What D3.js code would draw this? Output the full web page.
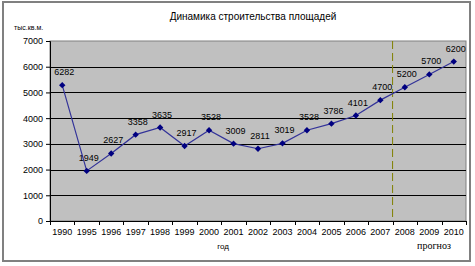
<!DOCTYPE html>
<html>
<head>
<meta charset="utf-8">
<script src="https://cdn.jsdelivr.net/npm/d3@7"></script>
<style>
  body { margin: 0; background: #fff; }
  text { font-family: Arial, "Liberation Sans", sans-serif; fill: #000; }
</style>
</head>
<body>
<div id="chart"></div>
<script>
var years = ["1990", "1995", "1996", "1997", "1998", "1999", "2000", "2001", "2002",
             "2003", "2004", "2005", "2006", "2007", "2008", "2009", "2010"];
var values = [5282, 1949, 2627, 3358, 3635, 2917, 3528, 3009, 2811,
              3019, 3528, 3786, 4101, 4700, 5200, 5700, 6200];
// labels as printed on the chart (first one differs from its point)
var pointLabels = ["6282", "1949", "2627", "3358", "3635", "2917", "3528", "3009", "2811",
                   "3019", "3528", "3786", "4101", "4700", "5200", "5700", "6200"];
var yTicks = [0, 1000, 2000, 3000, 4000, 5000, 6000, 7000];
var forecastFrom = "2008";

var W = 475, H = 266;
var margin = { top: 41, right: 9, bottom: 45, left: 50 };
var width = W - margin.left - margin.right;
var height = H - margin.top - margin.bottom;

var svg = d3.select("#chart").append("svg")
    .attr("width", W)
    .attr("height", H);

// outer frame
svg.append("rect")
    .attr("x", 3).attr("y", 2)
    .attr("width", 467).attr("height", 259)
    .attr("fill", "#fff")
    .attr("stroke", "#808080")
    .attr("stroke-width", 2);

svg.append("text")
    .attr("x", 253).attr("y", 20)
    .attr("text-anchor", "middle")
    .style("font-size", "10px")
    .text("Динамика строительства площадей");

svg.append("text")
    .attr("x", 14).attr("y", 30)
    .style("font-size", "7px")
    .text("тыс.кв.м.");

var g = svg.append("g")
    .attr("transform", `translate(${margin.left}, ${margin.top})`);

var x = d3.scaleBand().domain(years).range([0, width]);
var y = d3.scaleLinear().domain([0, 7000]).range([height, 0]);

// plot area
g.append("rect")
    .attr("width", width)
    .attr("height", height)
    .attr("fill", "#c0c0c0")
    .attr("stroke", "#808080")
    .attr("stroke-width", 1);

// gridlines
g.selectAll(".grid")
    .data(yTicks.filter(d => d > 0 && d < 7000))
    .enter().append("line")
    .attr("class", "grid")
    .attr("x1", 0).attr("x2", width)
    .attr("y1", d => Math.round(y(d)) + 0.5)
    .attr("y2", d => Math.round(y(d)) + 0.5)
    .attr("stroke", "#000")
    .attr("stroke-width", 1);

// forecast divider
var xf = x(forecastFrom);
g.append("line")
    .attr("x1", xf).attr("x2", xf)
    .attr("y1", 0).attr("y2", height)
    .attr("stroke", "#808000")
    .attr("stroke-width", 1)
    .attr("stroke-dasharray", "8,4");

// y axis
var yAxis = g.append("g")
    .call(d3.axisLeft(y).tickValues(yTicks).tickSize(4).tickPadding(3).tickFormat(d3.format("d")));
yAxis.selectAll("text").style("font-size", "9px").style("font-family", "Arial, 'Liberation Sans', sans-serif");
yAxis.select(".domain").attr("stroke", "#000");

// x axis, ticks on band boundaries
var xAxis = g.append("g")
    .attr("transform", `translate(0, ${height})`)
    .call(d3.axisBottom(x).tickSize(0).tickPadding(8));
xAxis.selectAll("text").style("font-size", "9px").style("font-family", "Arial, 'Liberation Sans', sans-serif");
xAxis.select(".domain").attr("stroke", "#000");
xAxis.selectAll(".bound")
    .data(d3.range(years.length + 1))
    .enter().append("line")
    .attr("class", "bound")
    .attr("x1", i => Math.round(i * x.step()) + 0.5)
    .attr("x2", i => Math.round(i * x.step()) + 0.5)
    .attr("y1", 0).attr("y2", 4)
    .attr("stroke", "#000");

var cx = d => x(d) + x.bandwidth() / 2;

// line
var line = d3.line()
    .x((d, i) => cx(years[i]))
    .y(d => y(d));

g.append("path")
    .datum(values)
    .attr("d", line)
    .attr("fill", "none")
    .attr("stroke", "#333399")
    .attr("stroke-width", 1.2);

// markers
g.selectAll(".pt")
    .data(values)
    .enter().append("path")
    .attr("class", "pt")
    .attr("transform", (d, i) => `translate(${cx(years[i])}, ${y(d)})`)
    .attr("d", d3.symbol(d3.symbolDiamond2, 26))
    .attr("fill", "#000080");

// value labels
g.selectAll(".lbl")
    .data(values)
    .enter().append("text")
    .attr("class", "lbl")
    .attr("x", (d, i) => cx(years[i]) + 2)
    .attr("y", d => y(d) - 10)
    .attr("text-anchor", "middle")
    .style("font-size", "9px")
    .text((d, i) => pointLabels[i]);

svg.append("text")
    .attr("x", 223).attr("y", 249)
    .attr("text-anchor", "middle")
    .style("font-size", "8px")
    .text("год");

svg.append("text")
    .attr("x", 434).attr("y", 249)
    .attr("text-anchor", "middle")
    .style("font-size", "10px")
    .style("font-family", "'Liberation Serif', serif")
    .text("прогноз");
</script>
</body>
</html>
